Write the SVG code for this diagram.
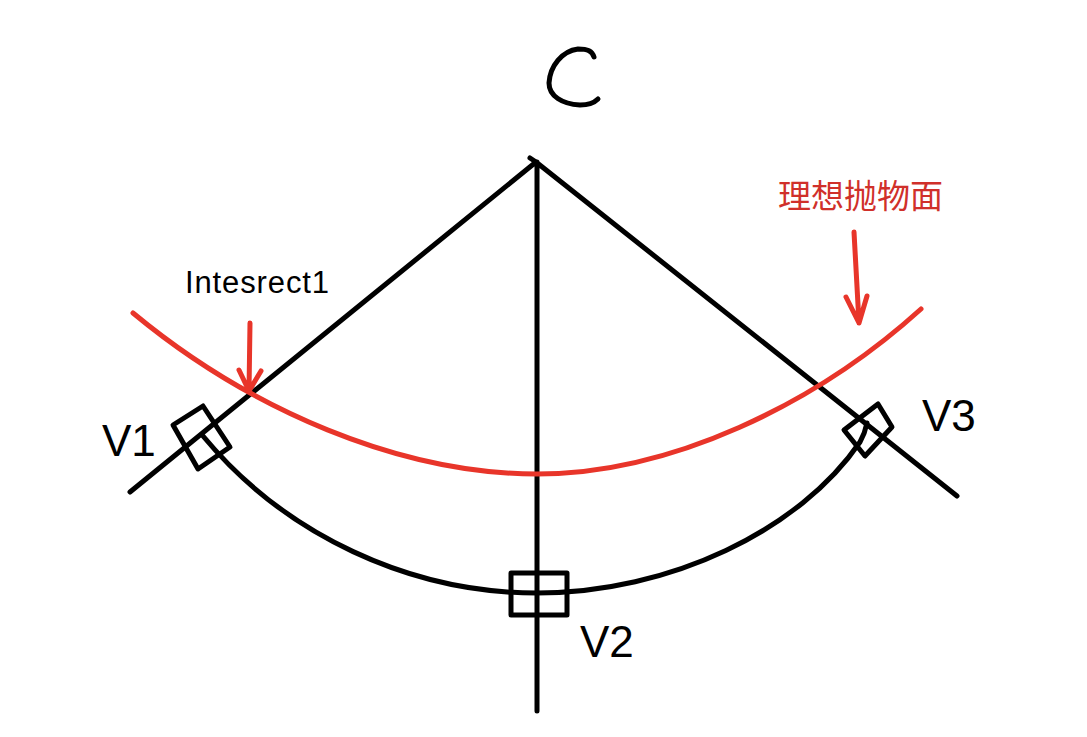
<svg xmlns="http://www.w3.org/2000/svg" width="1087" height="737" viewBox="0 0 1087 737">
<style>
.k{fill:none;stroke:#000;stroke-width:5;stroke-linecap:round;stroke-linejoin:round}
.r{fill:none;stroke:#e8352a;stroke-width:5;stroke-linecap:round;stroke-linejoin:round}
.t{font-family:"Liberation Sans","Noto Sans CJK SC",sans-serif;fill:#000}
</style>
<rect width="1087" height="737" fill="#fff"/>
<g id="connectors">
<path class="k" d="M530 158L536 162L130 492M536 162L957 496M537 162L537 711"/>
<path class="k" d="M203 436C285 535 410 593 537 593C670 593 800 530 860 442Q865 433 867 423"/>
<path class="r" d="M133 313C250 410 400 474 537 474C670 474 815 405 921 309"/>
<path class="r" d="M250 323L249 391M239 370L249 391L261 371"/>
<path class="r" d="M854 232L859 323M846 297L859 323L867 296"/>
</g>
<g id="C"><path class="k" d="M594 57C592 51 588 49 578 49C562 51 550 66 549 83C549 96 562 104 580 105C588 105 594 103 598 99"/></g>
<g id="V1"><path class="k" d="M203 406L173 425L198 469L230 447Z"/><text class="t" x="102" y="456" font-size="44">V1</text></g>
<g id="V2"><rect class="k" x="511" y="573" width="56" height="42"/><text class="t" x="580" y="657" font-size="44">V2</text></g>
<g id="V3"><path class="k" d="M878 404L892 427L865 456L844 430Z"/><text class="t" x="922" y="431" font-size="44">V3</text></g>
<g id="Intersect"><text class="t" x="185" y="293" font-size="31" textLength="144" lengthAdjust="spacing">Intesrect1</text></g>
<g id="Parabola"><text class="t" x="778" y="208" font-size="33" style="fill:#d0302a">理想抛物面</text></g>
</svg>
